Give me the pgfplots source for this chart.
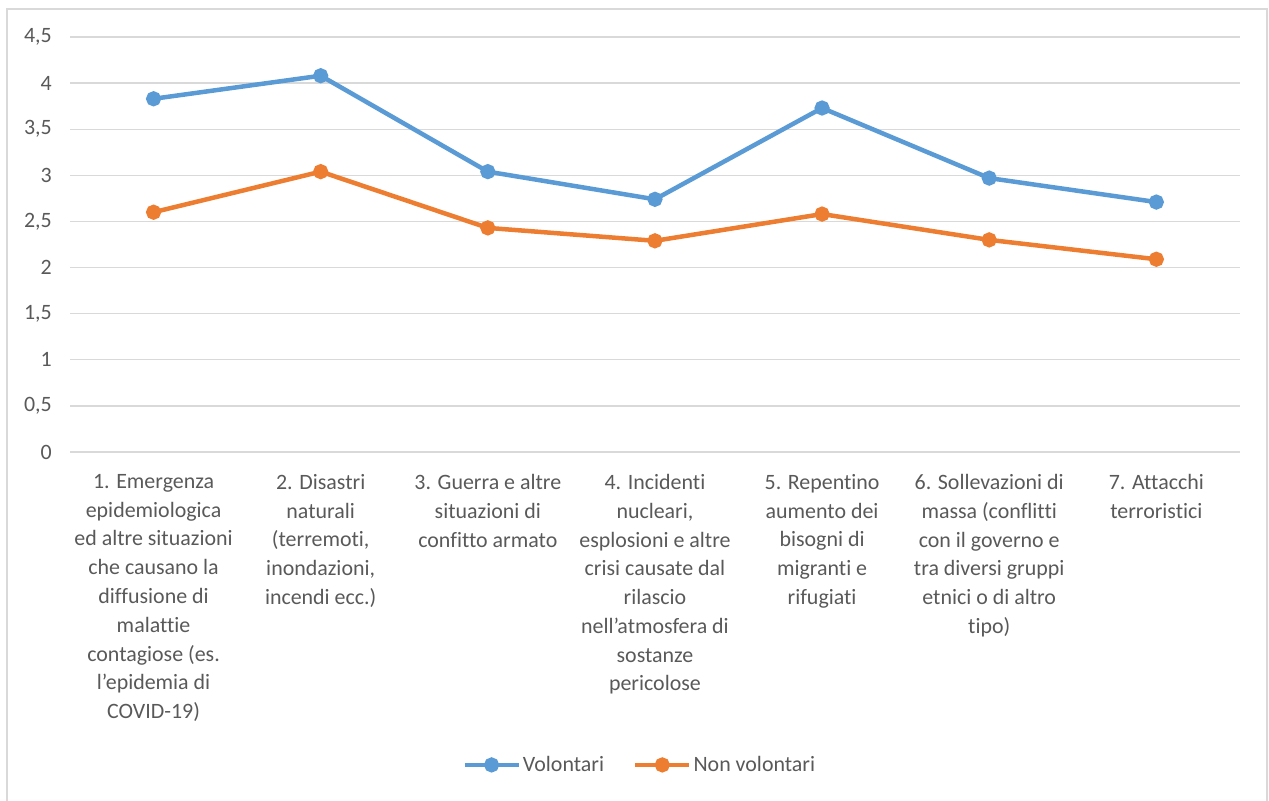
\documentclass[border=0pt]{standalone}
\usepackage{pgfplots}
\pgfplotsset{compat=1.18}
\usepackage{fontspec}
\setmainfont{Carlito}[Ligatures={NoCommon}]
\definecolor{blueS}{HTML}{5B9BD5}
\definecolor{orangeS}{HTML}{ED7D31}
\definecolor{gridc}{HTML}{D9D9D9}
\definecolor{txt}{HTML}{595959}
\definecolor{framec}{HTML}{D9D9D9}
\begin{document}
\begin{tikzpicture}
\useasboundingbox (0,0) rectangle (1269bp,801bp);
\draw[color=framec, line width=1.5bp] (7bp,0) -- (7bp,792bp) -- (1267bp,792bp) -- (1267bp,0);
\begin{axis}[
  scale only axis,
  width=1170bp, height=415bp,
  at={(70bp,349bp)}, anchor=south west,
  xmin=0.5, xmax=7.5, ymin=0, ymax=4.5,
  ytick={0,0.5,...,4.5},
  xtick={1,2,3,4,5,6,7},
  xticklabels={
    {1. Emergenza\\epidemiologica\\ed altre situazioni\\che causano la\\diffusione di\\malattie\\contagiose (es.\\l’epidemia di\\COVID-19)},
    {2. Disastri\\naturali\\(terremoti,\\inondazioni,\\incendi ecc.)},
    {3. Guerra e altre\\situazioni di\\confitto armato},
    {4. Incidenti\\nucleari,\\esplosioni e altre\\crisi causate dal\\rilascio\\nell’atmosfera di\\sostanze\\pericolose},
    {5. Repentino\\aumento dei\\bisogni di\\migranti e\\rifugiati},
    {6. Sollevazioni di\\massa (conflitti\\con il governo e\\tra diversi gruppi\\etnici o di altro\\tipo)},
    {7. Attacchi\\terroristici}},
  ymajorgrids,
  grid style={color=gridc, line width=1.4bp},
  axis line style={draw=none},
  major tick length=0pt,
  tick style={draw=none},
  font=\fontsize{22}{28.9}\selectfont,
  ticklabel style={color=txt},
  yticklabel style={inner sep=0pt, xshift=-18bp,
    /pgf/number format/.cd, use comma, fixed, precision=1, assume math mode=true},
  xticklabel style={align=center, anchor=north, inner sep=0pt, yshift=-22bp},
  legend columns=2,
  legend style={draw=none, fill=none, at={(0.487,-0.754)}, anchor=center,
    font=\fontsize{22}{25}\selectfont, text=txt,
    /tikz/every even column/.append style={column sep=27bp}},
  legend cell align=left,
  legend image code/.code={
    \draw[mark repeat=2,mark phase=2] plot coordinates {(0bp,0bp) (27bp,0bp) (54bp,0bp)};
  },
  every axis plot/.append style={line width=4.5bp, mark=*, mark size=5.3bp, mark options={solid}},
]
\addplot[color=blueS] coordinates {(1,3.83) (2,4.08) (3,3.04) (4,2.74) (5,3.73) (6,2.97) (7,2.71)};
\addlegendentry{Volontari}
\addplot[color=orangeS] coordinates {(1,2.60) (2,3.04) (3,2.43) (4,2.29) (5,2.58) (6,2.30) (7,2.09)};
\addlegendentry{Non volontari}
\end{axis}
\end{tikzpicture}
\end{document}
